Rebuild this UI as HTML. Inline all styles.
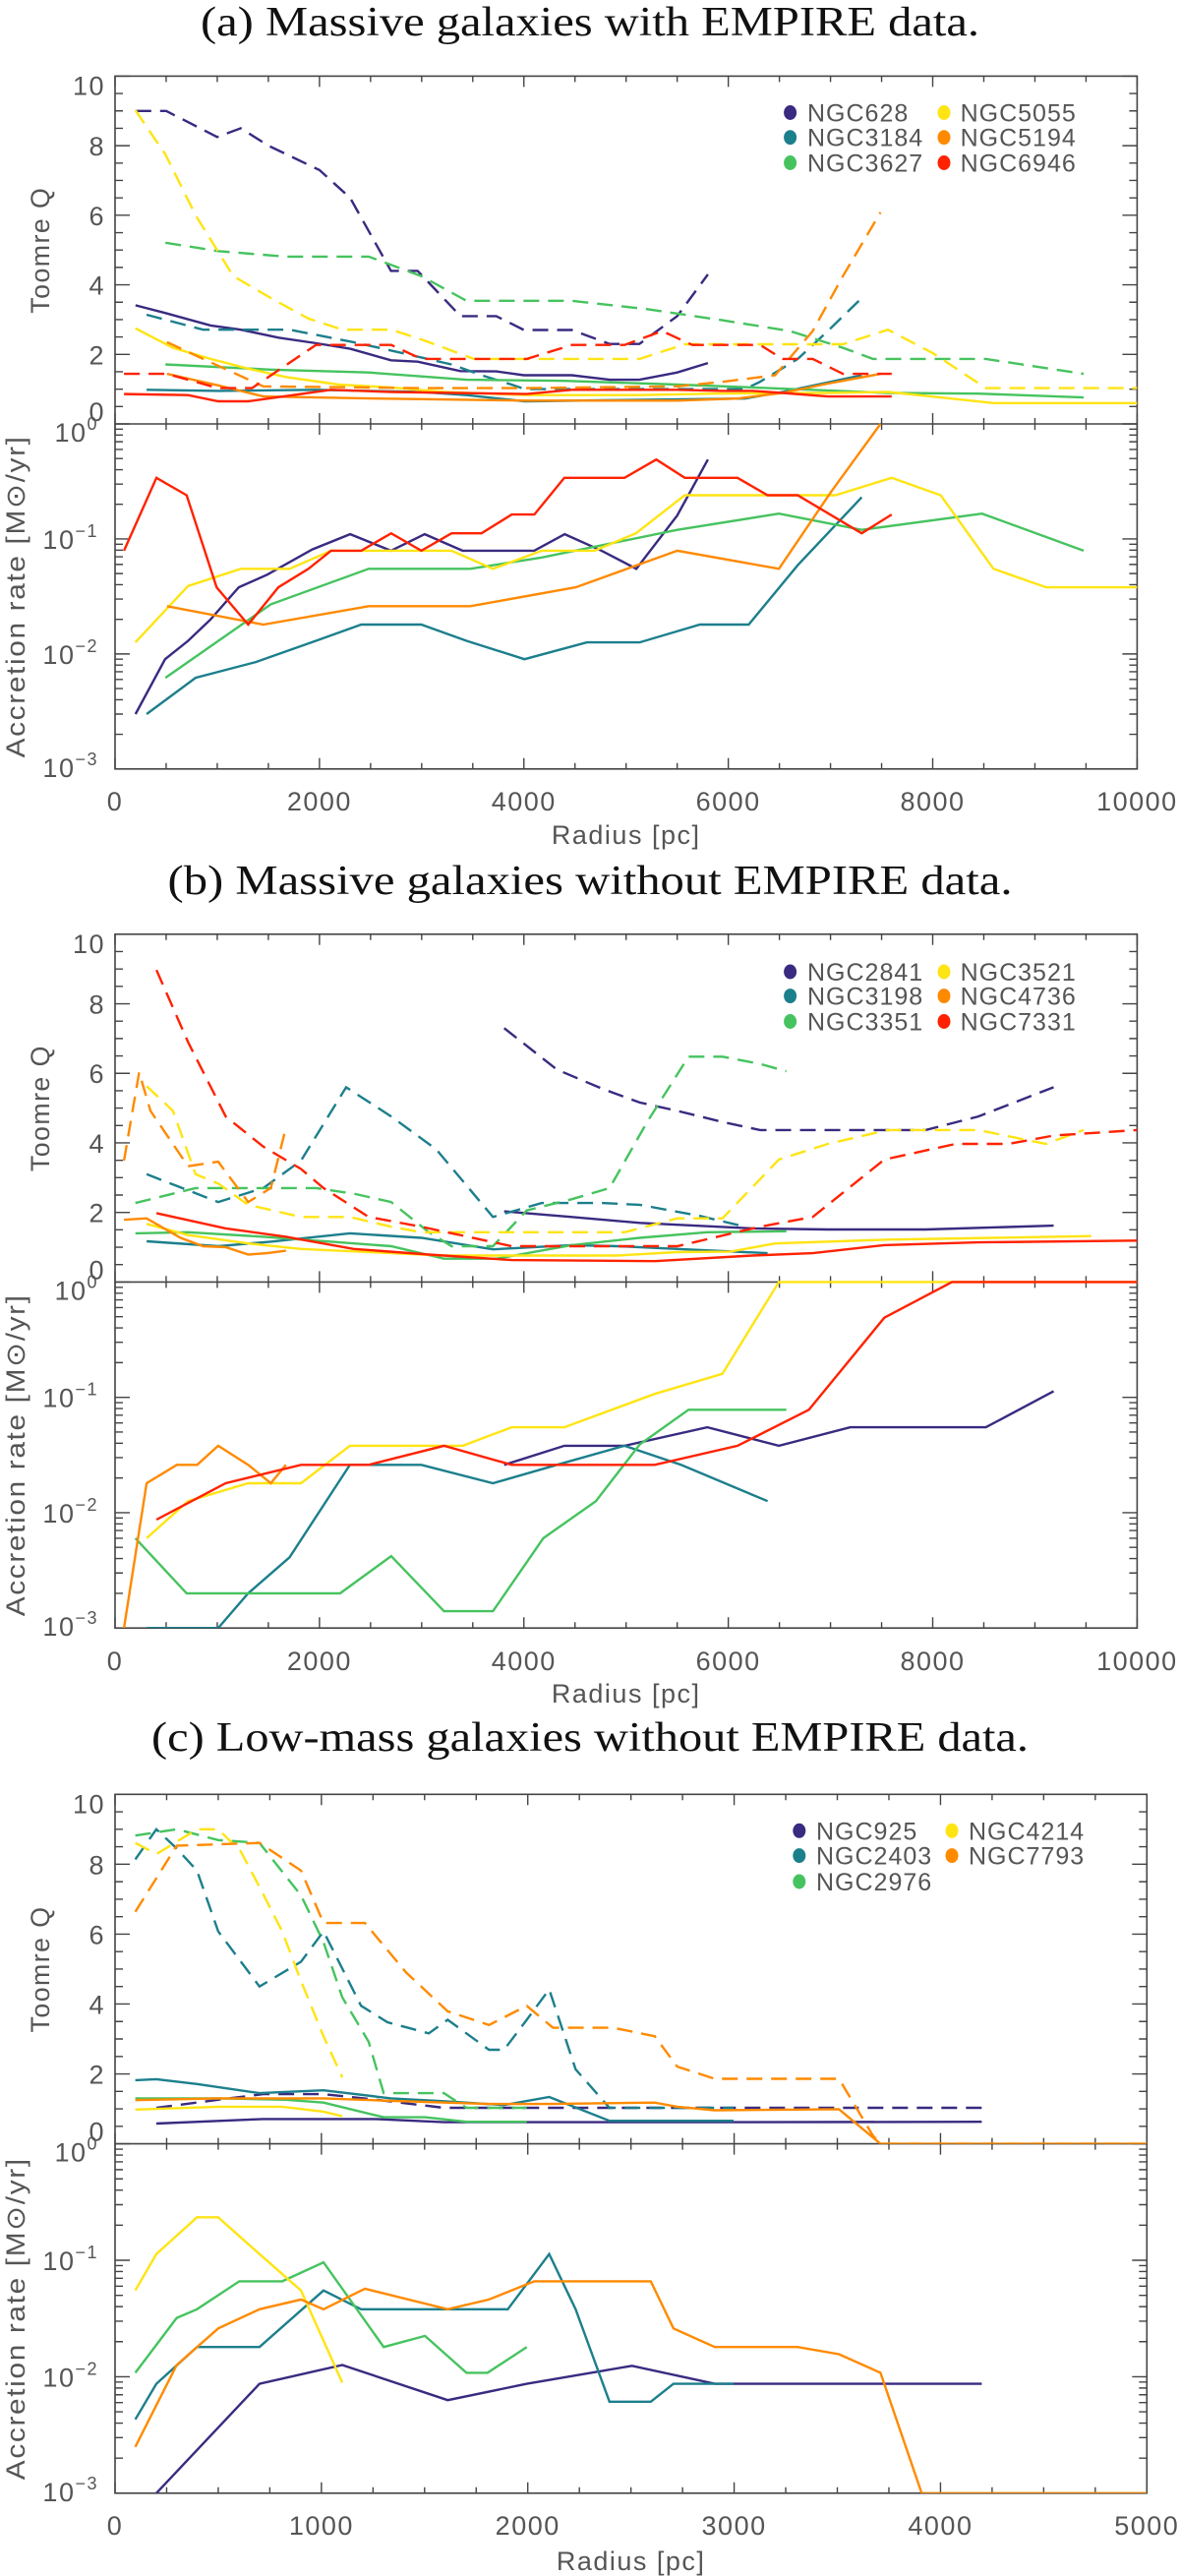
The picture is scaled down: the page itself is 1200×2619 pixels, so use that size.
<!DOCTYPE html>
<html><head><meta charset="utf-8"><style>
html,body{margin:0;padding:0;background:#fff;}
svg{display:block;}
text{font-family:"Liberation Sans",sans-serif;}
.ttl{font-family:"Liberation Serif",serif;font-size:42px;fill:#111;}
.tk{font-size:27px;fill:#555;letter-spacing:1.5px;}
.lg{font-size:25px;fill:#555;letter-spacing:1px;}
</style></head><body>
<svg id="fig" width="1200" height="2619" viewBox="0 0 1200 2619" xmlns="http://www.w3.org/2000/svg"></svg>
<script>
// ---------- Panel (a) data ----------
const a628_xd=[200,500,1000,1230,1500,2000,2300,2700,2960,3380,3730,4000,4470,4840,5130,5500,5800];
const a628_qd=[9.0,9.0,8.25,8.5,8.0,7.3,6.5,4.4,4.4,3.1,3.1,2.7,2.7,2.3,2.3,3.1,4.3];
const a628_xs=[200,490,935,1230,1600,1970,2300,2700,2960,3380,3730,4000,4470,4840,5130,5500,5800];
const a628_qs=[3.41,3.19,2.83,2.71,2.48,2.32,2.16,1.83,1.79,1.52,1.51,1.40,1.40,1.27,1.27,1.48,1.75];
const a628_xa=[200,490,715,935,1210,1490,1930,2300,2700,3030,3400,3730,4100,4400,4760,5100,5500,5800];
const a628_ac=[0.003,0.009,0.013,0.02,0.038,0.049,0.081,0.11,0.079,0.11,0.079,0.079,0.079,0.11,0.079,0.055,0.16,0.49];
const a3184_xd=[309,862,1708,2335,2702,3290,3586,3880,4006,6163,6310,6680,6973,7305];
const a3184_qd=[3.14,2.71,2.71,2.35,2.11,1.71,1.40,1.13,1.0,1.0,1.21,1.87,2.67,3.62];
const a3184_xs=[309,1009,1966,2997,3439,4006,4764,6163,6532,7305];
const a3184_qs=[0.98,0.95,0.98,0.92,0.83,0.65,0.68,0.73,0.92,1.40];
const a3184_xa=[309,788,1377,1966,2408,2997,3439,4006,4617,5133,5722,6200,6679,7305];
const a3184_ac=[0.003,0.0062,0.0085,0.013,0.018,0.018,0.013,0.009,0.0126,0.0126,0.018,0.018,0.059,0.23];
const a3627_xd=[493,1009,1672,2482,2997,3439,4470,5206,5943,6605,7121,7415,8004,8520,9477];
const a3627_qd=[5.21,4.97,4.81,4.81,4.25,3.54,3.54,3.30,2.98,2.67,2.19,1.87,1.87,1.87,1.44];
const a3627_xs=[493,1524,2482,3439,4396,5501,6237,7562,8446,9477];
const a3627_qs=[1.71,1.56,1.48,1.27,1.24,1.13,1.05,0.89,0.87,0.76];
const a3627_xa=[493,1524,2482,3476,4175,5501,6495,7305,8483,9477];
const a3627_ac=[0.0062,0.027,0.055,0.055,0.069,0.12,0.166,0.12,0.166,0.079];
const a5055_xd=[199,493,788,1156,1524,1892,2224,2702,2997,3512,4028,5133,5574,5943,6605,7121,7562,8004,8520,10000];
const a5055_qd=[9.02,7.75,6.0,4.25,3.62,3.03,2.71,2.71,2.43,1.87,1.87,1.87,2.29,2.29,2.29,2.29,2.71,2.03,1.03,1.03];
const a5055_xs=[199,567,935,1303,1672,2187,2702,3218,4028,5133,5869,6973,7562,8078,8594,10000];
const a5055_qs=[2.75,2.19,1.87,1.59,1.35,1.13,1.05,0.92,0.83,0.83,0.87,0.89,0.92,0.76,0.60,0.60];
const a5055_xa=[199,714,1230,1708,2113,3292,3697,4175,4691,5096,5574,7047,7599,8078,8594,9109,10000];
const a5055_ac=[0.0126,0.039,0.055,0.055,0.079,0.079,0.055,0.079,0.079,0.112,0.24,0.24,0.34,0.24,0.055,0.038,0.038];
const a5194_xd=[508,862,1451,2997,4028,5501,5943,6458,6826,7121,7489];
const a5194_qd=[2.35,1.87,1.08,1.03,1.03,1.08,1.21,1.40,2.67,4.25,6.08];
const a5194_xs=[508,1009,1451,2555,4028,5501,6090,6532,6973,7489];
const a5194_qs=[1.44,1.11,0.79,0.73,0.67,0.67,0.73,0.89,1.16,1.44];
const a5194_xa=[508,1451,2482,3476,4507,5501,6495,7010,7489];
const a5194_ac=[0.026,0.018,0.026,0.026,0.038,0.079,0.055,0.26,1.0];
const a6946_xd=[88,508,1009,1340,1966,2297,2702,2997,4028,4470,4985,5353,5648,6311,6532,6826,7121,7599];
const a6946_qd=[1.44,1.44,1.03,1.03,2.27,2.27,2.27,1.87,1.87,2.27,2.27,2.67,2.27,2.27,1.87,1.87,1.44,1.44];
const a6946_xs=[88,714,1009,1303,2113,2702,4028,4470,5501,5943,6237,6532,6973,7599];
const a6946_qs=[0.86,0.83,0.65,0.65,0.98,0.92,0.86,0.98,0.98,0.95,0.95,0.89,0.79,0.79];
const a6946_xa=[88,405,700,994,1303,1598,1892,2113,2408,2702,2997,3292,3586,3881,4102,4396,4985,5295,5574,6090,6384,6679,7305,7599];
const a6946_ac=[0.079,0.34,0.24,0.038,0.018,0.038,0.055,0.079,0.079,0.112,0.079,0.112,0.112,0.163,0.163,0.34,0.34,0.49,0.34,0.34,0.24,0.24,0.112,0.163];
// ---------- Panel (b) data ----------
const b2841_xd=[3807,4323,4764,5133,5501,5943,6311,6973,7931,8446,9183];
const b2841_qd=[7.30,6.11,5.56,5.16,4.92,4.60,4.37,4.37,4.37,4.76,5.60];
const b2841_xs=[3807,4470,5133,6237,6973,7931,9183];
const b2841_qs=[2.03,1.87,1.70,1.54,1.51,1.51,1.62];
const b2841_xa=[3807,4396,4985,5795,6495,7194,8520,9183];
const b2841_ac=[0.026,0.038,0.038,0.055,0.038,0.055,0.055,0.113];
const b3198_xd=[309,1009,1451,1819,2261,2702,3144,3697,4175,4764,5133,5722,6163];
const b3198_qd=[3.10,2.30,2.70,3.49,5.60,4.76,3.81,1.87,2.27,2.27,2.22,1.90,1.59];
const b3198_xs=[309,1009,1524,2297,2997,3697,4470,4911,5501,6384];
const b3198_qs=[1.17,1.03,1.16,1.40,1.27,0.94,1.06,1.03,0.95,0.83];
const b3198_xa=[309,1009,1303,1708,2297,2997,3697,4323,4985,5538,6384];
const b3198_ac=[0.001,0.001,0.002,0.0041,0.026,0.026,0.018,0.026,0.038,0.026,0.0126];
const b3351_xd=[199,788,1966,2335,2702,3071,3292,3697,4028,4470,4838,5206,5611,5943,6311,6568];
const b3351_qd=[2.27,2.70,2.70,2.54,2.30,1.43,1.03,1.03,2.06,2.38,2.70,4.60,6.48,6.48,6.27,6.06];
const b3351_xs=[199,714,1451,2113,2702,3218,3733,4470,5133,5795,6568];
const b3351_qs=[1.40,1.43,1.30,1.16,1.03,0.67,0.67,1.06,1.27,1.43,1.46];
const b3351_xa=[199,700,1377,2202,2702,3218,3697,4190,4705,5133,5611,6568];
const b3351_ac=[0.006,0.002,0.002,0.002,0.0042,0.0014,0.0014,0.006,0.0126,0.039,0.078,0.078];
const b3521_xd=[309,567,788,1009,1303,1819,2297,2702,2997,4985,5501,5943,6495,6973,7562,8446,9109,9477];
const b3521_qd=[5.63,4.92,3.10,2.83,2.22,1.87,1.87,1.59,1.43,1.43,1.83,1.83,3.52,3.97,4.37,4.37,3.97,4.37];
const b3521_xs=[309,714,1303,1819,2702,3218,4028,4911,5501,6016,6458,7562,8594,9551];
const b3521_qs=[1.67,1.35,1.11,0.95,0.83,0.76,0.76,0.76,0.86,0.87,1.11,1.22,1.27,1.32];
const b3521_xa=[309,714,1303,1819,2297,3402,3881,4396,5280,5943,6495,10000];
const b3521_ac=[0.006,0.0126,0.018,0.018,0.038,0.038,0.055,0.055,0.107,0.16,1.0,1.0];
const b4736_xd=[88,236,346,714,1009,1303,1524,1672];
const b4736_qd=[3.49,6.03,4.92,3.33,3.46,2.30,2.70,4.44];
const b4736_xs=[88,309,641,862,1083,1303,1487,1672];
const b4736_qs=[1.79,1.83,1.27,1.03,1.0,0.79,0.83,0.90];
const b4736_xa=[88,309,604,803,1009,1303,1524,1672];
const b4736_ac=[0.001,0.018,0.026,0.026,0.038,0.026,0.018,0.026];
const b7331_xd=[405,714,1082,1451,1819,2040,2482,2997,3881,5501,6311,6826,7526,8225,8741,9183,10000];
const b7331_qd=[8.97,6.90,4.76,3.89,3.25,2.70,1.87,1.59,1.03,1.03,1.59,1.87,3.52,3.97,3.97,4.21,4.37];
const b7331_xs=[405,1082,1672,2335,3071,3881,5280,6237,6826,7526,8446,10000];
const b7331_qs=[1.98,1.54,1.30,0.95,0.79,0.63,0.60,0.76,0.83,1.06,1.14,1.19];
const b7331_xa=[405,1082,1819,2482,3218,3881,5280,6090,6789,7526,8188,10000];
const b7331_ac=[0.0087,0.018,0.026,0.026,0.038,0.026,0.026,0.038,0.078,0.49,1.0,1.0];
// ---------- Panel (c) data ----------
const c925_xd=[200,500,718,1010,1265,1594,4200];
const c925_qd=[1.03,1.26,1.42,1.42,1.26,1.03,1.03];
const c925_xs=[200,718,1265,1594,3089,4200];
const c925_qs=[0.58,0.71,0.71,0.62,0.62,0.63];
const c925_xa=[200,700,1101,1612,1995,2505,2906,4200];
const c925_ac=[0.001,0.0087,0.0126,0.0063,0.0087,0.0124,0.0087,0.0087];
const c2403_xd=[98,200,299,397,500,700,901,1010,1192,1320,1520,1612,1812,1885,1995,2104,2232,2396,2997];
const c2403_qd=[8.14,9.0,8.45,7.82,6.08,4.50,5.21,6.08,3.95,3.48,3.16,3.55,2.69,2.69,3.55,4.42,2.13,1.03,1.03];
const c2403_xs=[98,200,397,700,1010,1338,1594,1885,2104,2396,2997];
const c2403_qs=[1.82,1.85,1.71,1.45,1.53,1.30,1.22,1.11,1.34,0.66,0.66];
const c2403_xa=[98,200,397,700,1010,1192,1903,2104,2232,2396,2596,2706,2997];
const c2403_ac=[0.0043,0.0087,0.018,0.018,0.055,0.038,0.038,0.113,0.038,0.0061,0.0061,0.0087,0.0087];
const c2976_xd=[98,299,500,700,901,1010,1101,1229,1302,1594,1703,1995];
const c2976_qd=[8.82,9.0,8.69,8.61,7.11,5.77,4.19,2.92,1.45,1.45,1.03,1.03];
const c2976_xs=[98,500,828,1010,1302,1502,1703,1995];
const c2976_qs=[1.30,1.30,1.26,1.18,0.76,0.76,0.63,0.63];
const c2976_xa=[98,299,397,602,810,1010,1302,1502,1703,1805,1995];
const c2976_ac=[0.0108,0.032,0.038,0.066,0.066,0.096,0.018,0.0224,0.0108,0.0108,0.018];
const c4214_xd=[98,200,397,500,609,700,810,901,1010,1101];
const c4214_qd=[8.61,8.29,9.0,9.0,8.37,7.35,6.08,4.66,3.08,1.90];
const c4214_xs=[98,500,810,1010,1101];
const c4214_qs=[0.98,1.06,1.06,0.92,0.79];
const c4214_xa=[98,200,397,500,700,901,1101];
const c4214_ac=[0.055,0.113,0.234,0.234,0.113,0.055,0.0089];
const c7793_xd=[98,299,700,901,1010,1211,1411,1612,1812,1995,2122,2414,2615,2724,2906,3508,3672,3709,5000];
const c7793_qd=[6.64,8.53,8.61,7.82,6.32,6.32,4.90,3.79,3.40,3.95,3.32,3.32,3.08,2.21,1.86,1.86,0.24,0,0];
const c7793_xs=[98,500,1010,1338,1812,2104,2615,2724,2906,3508,3709,5000];
const c7793_qs=[1.25,1.30,1.30,1.23,1.14,1.14,1.18,1.06,0.96,0.99,0,0];
const c7793_xa=[98,299,500,700,901,1010,1211,1612,1812,2031,2596,2706,2906,3308,3508,3709,3909,5000];
const c7793_ac=[0.0025,0.0126,0.026,0.038,0.046,0.038,0.057,0.038,0.046,0.066,0.066,0.026,0.018,0.018,0.0156,0.0108,0.001,0.001];
// ---------- labels ----------
const xTicksAB=[0,2000,4000,6000,8000,10000];
const xTicksC=[0,1000,2000,3000,4000,5000];
const qTicks=[0,2,4,6,8,10];
const logTicks=[0,-1,-2,-3];
const namesA=["NGC628","NGC3184","NGC3627","NGC5055","NGC5194","NGC6946"];
const namesB=["NGC2841","NGC3198","NGC3351","NGC3521","NGC4736","NGC7331"];
const namesC=["NGC925","NGC2403","NGC2976","NGC4214","NGC7793"];
const titles=["(a) Massive galaxies with EMPIRE data.","(b) Massive galaxies without EMPIRE data.","(c) Low-mass galaxies without EMPIRE data."];

const COL=["#3a2a80","#1c7f8c","#46c35f","#ffe414","#ff8a00","#ff2200"];
const COLC=["#3a2a80","#1c7f8c","#46c35f","#ffe414","#ff8a00"];

const panels=[
 {id:"a",left:117,right:1156.4,top:77.4,div:431,bot:781.8,xmax:10000,maj:2000,min:500,ticks:xTicksAB,titleY:36,titleLen:792,xlabY:824,radY:858,
  names:namesA,cols:COL,lgDot:[803.6,960],lgTxt:[821,976.6],lgY:[114.5,139.7,165.5],
  series:[[a628_xd,a628_qd,a628_xs,a628_qs,a628_xa,a628_ac],[a3184_xd,a3184_qd,a3184_xs,a3184_qs,a3184_xa,a3184_ac],[a3627_xd,a3627_qd,a3627_xs,a3627_qs,a3627_xa,a3627_ac],[a5055_xd,a5055_qd,a5055_xs,a5055_qs,a5055_xa,a5055_ac],[a5194_xd,a5194_qd,a5194_xs,a5194_qs,a5194_xa,a5194_ac],[a6946_xd,a6946_qd,a6946_xs,a6946_qs,a6946_xa,a6946_ac]]},
 {id:"b",left:117,right:1156.4,top:949.8,div:1303.4,bot:1655.2,xmax:10000,maj:2000,min:500,ticks:xTicksAB,titleY:909,titleLen:859,xlabY:1698,radY:1731,
  names:namesB,cols:COL,lgDot:[803.6,960],lgTxt:[821,976.6],lgY:[988,1012.6,1038.5],
  series:[[b2841_xd,b2841_qd,b2841_xs,b2841_qs,b2841_xa,b2841_ac],[b3198_xd,b3198_qd,b3198_xs,b3198_qs,b3198_xa,b3198_ac],[b3351_xd,b3351_qd,b3351_xs,b3351_qs,b3351_xa,b3351_ac],[b3521_xd,b3521_qd,b3521_xs,b3521_qs,b3521_xa,b3521_ac],[b4736_xd,b4736_qd,b4736_xs,b4736_qs,b4736_xa,b4736_ac],[b7331_xd,b7331_qd,b7331_xs,b7331_qs,b7331_xa,b7331_ac]]},
 {id:"c",left:117,right:1166.3,top:1824.3,div:2179.6,bot:2534.8,xmax:5000,maj:1000,min:250,ticks:xTicksC,titleY:1780,titleLen:892,xlabY:2577,radY:2613,
  names:namesC,cols:COLC,lgDot:[812.8,968],lgTxt:[830,985],lgY:[1861.3,1886.6,1913],
  series:[[c925_xd,c925_qd,c925_xs,c925_qs,c925_xa,c925_ac],[c2403_xd,c2403_qd,c2403_xs,c2403_qs,c2403_xa,c2403_ac],[c2976_xd,c2976_qd,c2976_xs,c2976_qs,c2976_xa,c2976_ac],[c4214_xd,c4214_qd,c4214_xs,c4214_qs,c4214_xa,c4214_ac],[c7793_xd,c7793_qd,c7793_xs,c7793_qs,c7793_xa,c7793_ac]]}
];

const NS="http://www.w3.org/2000/svg";
const svg=document.getElementById("fig");
function mk(tag,attrs,parent){const e=document.createElementNS(NS,tag);for(const k in attrs)e.setAttribute(k,attrs[k]);(parent||svg).appendChild(e);return e;}
const defs=mk("defs",{});

panels.forEach(function(p){
  const g=mk("g",{});
  
  
  const X=v=>p.left+v/p.xmax*(p.right-p.left);
  const QY=v=>p.div-v/10*(p.div-p.top);
  const LY=v=>p.div+(-Math.log10(v))/3*(p.bot-p.div);
  const LYe=e=>p.div+(-e)/3*(p.bot-p.div);

  const t=mk("text",{x:600,y:p.titleY,"text-anchor":"middle",class:"ttl",textLength:p.titleLen,lengthAdjust:"spacingAndGlyphs"},g);
  t.textContent=titles[panels.indexOf(p)];
  
  

  const cq=mk("clipPath",{id:"cq"+p.id},defs);mk("rect",{x:p.left,y:p.top,width:p.right-p.left,height:p.div-p.top},cq);
  const ca=mk("clipPath",{id:"ca"+p.id},defs);mk("rect",{x:p.left,y:p.div-1.5,width:p.right-p.left,height:p.bot-p.div+1.5},ca);

  const fr=mk("rect",{x:p.left,y:p.top,width:p.right-p.left,height:p.bot-p.top,fill:"none",stroke:"#444","stroke-width":1.6},g);
  
  
  const dv=mk("line",{x1:p.left,x2:p.right,y1:p.div,y2:p.div,stroke:"#444","stroke-width":1.6},g);
  
  

  let d="";
  for(let v=0;v<=p.xmax+1;v+=p.min){
    const L=(v%p.maj===0)?11:6;const x=X(v);
    d+="M"+x+" "+p.top+"v"+L+"M"+x+" "+p.div+"v"+(-L)+"M"+x+" "+p.div+"v"+L+"M"+x+" "+p.bot+"v"+(-L);
  }
  for(let v=0;v<=10.01;v+=0.5){
    const L=(Math.abs(v%2)<0.01)?15:8;const y=QY(v);
    d+="M"+p.left+" "+y+"h"+L+"M"+p.right+" "+y+"h"+(-L);
  }
  for(let e=-3;e<0;e++){
    for(let m=1;m<10;m++){
      const v=m*Math.pow(10,e);const y=LY(v);const L=(m===1)?15:8;
      d+="M"+p.left+" "+y+"h"+L+"M"+p.right+" "+y+"h"+(-L);
    }
  }
  const tk=mk("path",{d:d,stroke:"#444","stroke-width":1.4,fill:"none"},g);
  
  

  p.ticks.forEach(function(v){
    const tl=mk("text",{x:X(v),y:p.xlabY,"text-anchor":"middle",class:"tk"},g);
    tl.textContent=String(v);
    
    
  });
  qTicks.forEach(function(v){
    let y=QY(v)+10;if(v===10)y+=9;if(v===0)y-=13;
    const tl=mk("text",{x:107,y:y,"text-anchor":"end",class:"tk"},g);
    tl.textContent=String(v);
    
    
  });
  logTicks.forEach(function(e){
    let y=LYe(e)+10;if(e===0)y+=8;if(e===-3)y-=2;
    const tl=mk("text",{x:100,y:y,"text-anchor":"end",class:"tk"},g);
    const a=mk("tspan",{},tl);a.textContent="10";
    const s=mk("tspan",{dy:-12,"font-size":"18"},tl);s.textContent=(e===0)?"0":"\u2212"+(-e);
    
    
  });
  const ry=mk("text",{x:(p.left+p.right)/2,y:p.radY,"text-anchor":"middle",class:"tk","font-size":"28"},g);
  ry.textContent="Radius [pc]";
  
  
  const qc=(p.top+p.div)/2;
  const qt=mk("text",{x:0,y:0,"text-anchor":"middle",class:"tk",transform:"translate(50,"+qc+") rotate(-90)",textLength:129,lengthAdjust:"spacingAndGlyphs"},g);
  qt.textContent="Toomre Q";
  
  
  const ac=(p.div+p.bot)/2;
  const at=mk("text",{x:0,y:0,"text-anchor":"middle",class:"tk",transform:"translate(25,"+ac+") rotate(-90)",textLength:328,lengthAdjust:"spacingAndGlyphs"},g);
  at.textContent="Accretion rate [M\u2299/yr]";
  
  

  const path=(xs,ys,f)=>xs.map((x,i)=>(i?"L":"M")+X(x).toFixed(1)+" "+f(ys[i]).toFixed(1)).join("");
  p.series.forEach(function(s,i){
    const c=p.cols[i];
    const pd=mk("path",{d:path(s[0],s[1],QY),stroke:c,"stroke-width":2.4,fill:"none","stroke-dasharray":"16 9","clip-path":"url(#cq"+p.id+")"},g);
    
    
    const ps=mk("path",{d:path(s[2],s[3],QY),stroke:c,"stroke-width":2.4,fill:"none","clip-path":"url(#cq"+p.id+")"},g);
    
    
    const pa=mk("path",{d:path(s[4],s[5],LY),stroke:c,"stroke-width":2.4,fill:"none","clip-path":"url(#ca"+p.id+")"},g);
    
    
  });

  p.names.forEach(function(n,i){
    const col=i<3?0:1,row=i%3;
    const y=p.lgY[row];
    const dot=mk("ellipse",{cx:p.lgDot[col],cy:y,rx:6.5,ry:7.5,fill:p.cols[i]},g);
    
    
    const lt=mk("text",{x:p.lgTxt[col],y:y+9,class:"lg"},g);
    lt.textContent=n;
    
    
  });
});
</script>
</body></html>
